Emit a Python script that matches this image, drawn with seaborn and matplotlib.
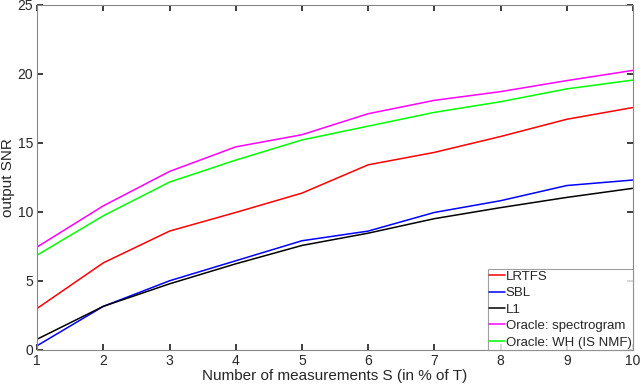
import numpy as np
import pandas as pd
import matplotlib
matplotlib.use("Agg")
import matplotlib.pyplot as plt
import seaborn as sns

x = [1, 2, 3, 4, 5, 6, 7, 8, 9, 10]
lrtfs = [3.0, 6.3, 8.6, 9.95, 11.35, 13.4, 14.3, 15.45, 16.7, 17.55]
sbl = [0.3, 3.15, 5.0, 6.45, 7.9, 8.6, 9.95, 10.8, 11.9, 12.3]
l1 = [0.77, 3.15, 4.78, 6.23, 7.56, 8.45, 9.5, 10.3, 11.04, 11.7]
oracle_spec = [7.45, 10.43, 12.92, 14.7, 15.58, 17.1, 18.07, 18.7, 19.5, 20.24]
oracle_wh = [6.86, 9.71, 12.15, 13.74, 15.2, 16.2, 17.2, 17.97, 18.9, 19.54]

names = ["LRTFS", "SBL", "L1", "Oracle: spectrogram", "Oracle: WH (IS NMF)"]
series = [lrtfs, sbl, l1, oracle_spec, oracle_wh]
colors = ["#ff0000", "#0000ff", "#000000", "#ff00ff", "#00ff00"]

df = pd.DataFrame({
    "S": np.tile(x, len(names)),
    "SNR": np.concatenate(series),
    "method": np.repeat(names, len(x)),
})

sns.set_theme(style="white")
plt.rcParams["font.family"] = ["Liberation Sans", "DejaVu Sans"]

fig = plt.figure(figsize=(6.4, 3.9), dpi=100)
ax = fig.add_axes([0.058, 0.103, 0.931, 0.885])
sns.lineplot(data=df, x="S", y="SNR", hue="method", palette=dict(zip(names, colors)),
             hue_order=names, ax=ax, linewidth=1.1)

ax.set_xlim(1, 10)
ax.set_ylim(0, 25)
ax.set_xticks(range(1, 11))
ax.set_yticks([0, 5, 10, 15, 20, 25])
ax.set_xlabel("Number of measurements S (in % of T)", fontsize=11, color="#262626", labelpad=1)
ax.set_ylabel("output SNR", fontsize=11, color="#262626", labelpad=2)
ax.tick_params(direction="in", length=4, labelsize=10, colors="#262626",
               top=True, right=True, bottom=True, left=True, pad=3)
for s in ax.spines.values():
    s.set_color("#888888")
    s.set_linewidth(0.8)

leg = ax.legend(loc="lower right", fontsize=9.5, frameon=True, fancybox=False,
                handlelength=1.2, handletextpad=0.05, borderpad=0.1, labelspacing=0.32,
                borderaxespad=0.0, edgecolor="#888888")
leg.get_frame().set_linewidth(0.8)

fig.savefig("out.png", dpi=100)
